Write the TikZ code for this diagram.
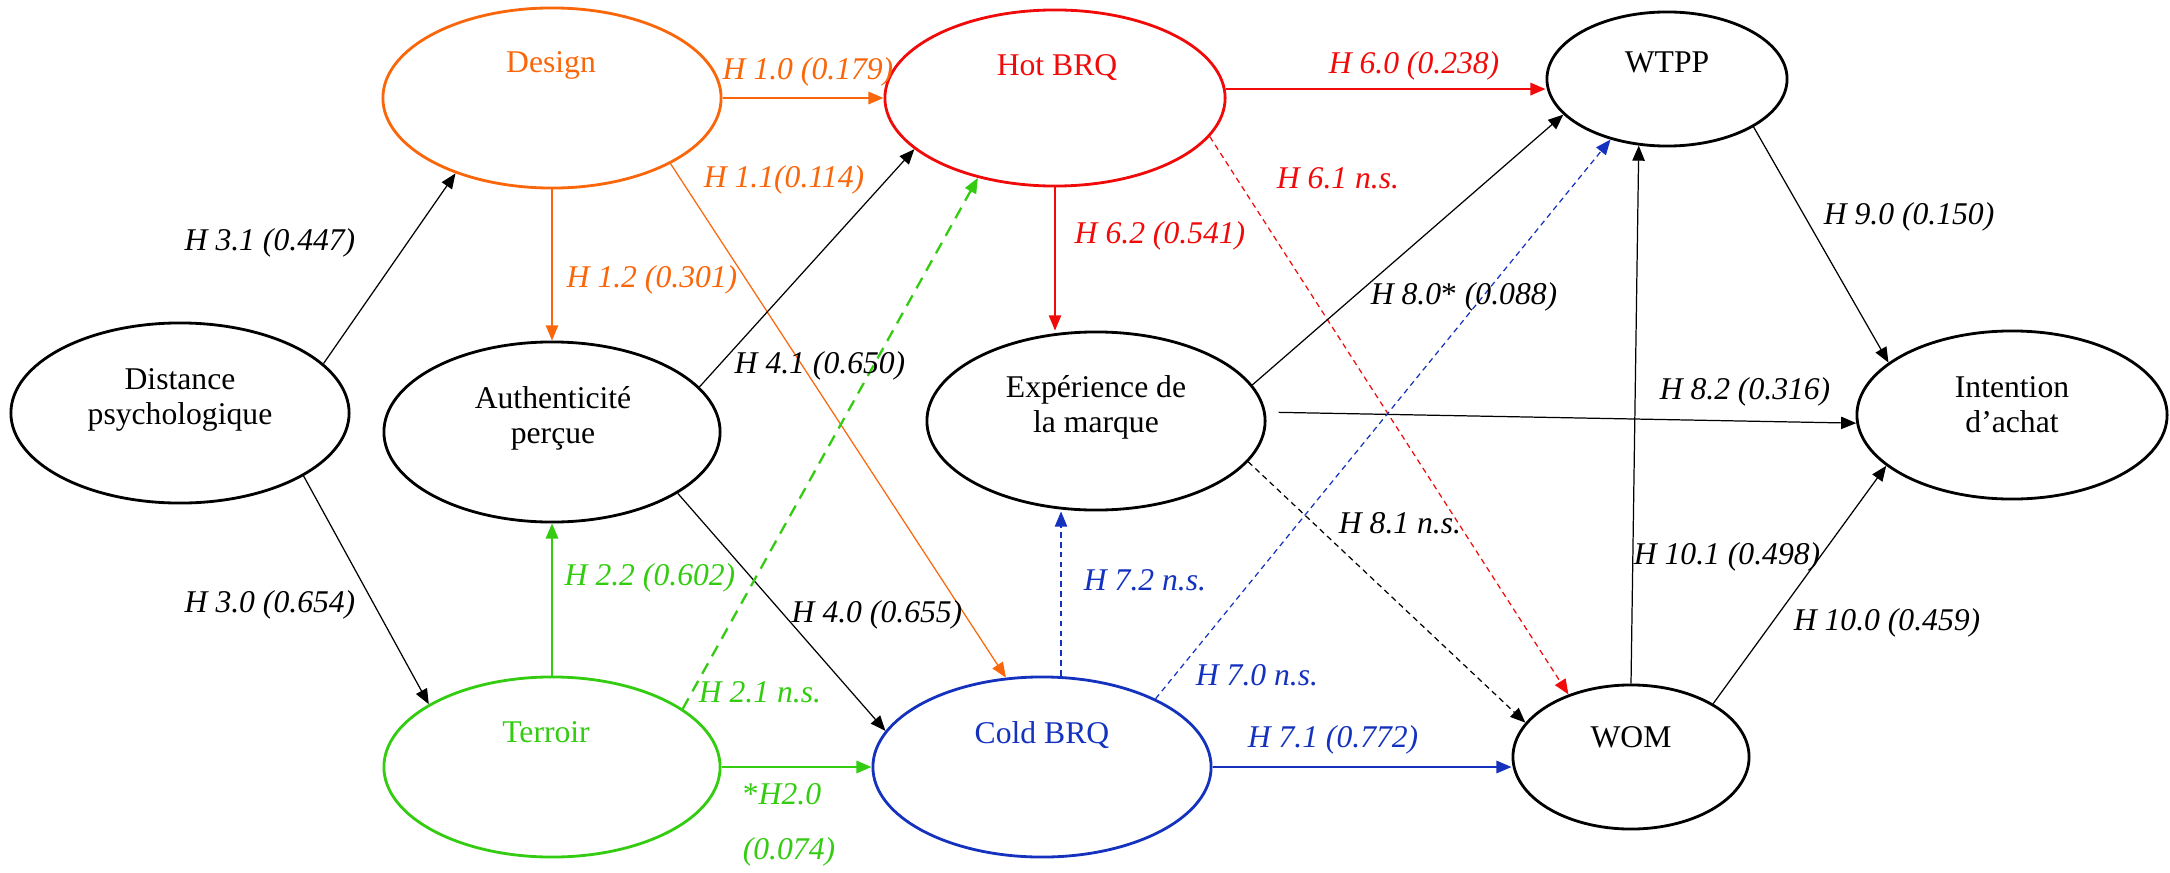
\documentclass[tikz,border=0pt]{standalone}
\usepackage{fontspec}
\setmainfont{Liberation Serif}
\usetikzlibrary{shapes.geometric, arrows.meta}
\definecolor{dorange}{RGB}{250,102,10}
\definecolor{dred}{RGB}{240,10,10}
\definecolor{dgreen}{RGB}{51,204,17}
\definecolor{dblue}{RGB}{20,50,190}
\begin{document}
\begin{tikzpicture}[
  x=0.01cm, y=-0.01cm,
  font=\fontsize{9}{10}\selectfont,
  construct/.style={draw, ellipse, line width=0.8pt, inner sep=0pt, minimum width=3.38cm, minimum height=1.80cm},
  hyp/.style={font=\fontsize{9}{10}\selectfont\itshape},
  link/.style={-{Triangle[length=4.3pt, width=3.5pt]}, line width=0.35pt},
  bold/.style={link, line width=0.65pt},
  ns/.style={dash pattern=on 1.6pt off 1.2pt}
]
  \useasboundingbox (0,0) rectangle (2170,873);

  \node[construct] (distance) at (180,413) {};
  \node[construct, draw=dorange] (design) at (552,98) {};
  \node[construct, minimum width=3.36cm] (auth) at (552,432) {};
  \node[construct, draw=dgreen, minimum width=3.36cm] (terroir) at (552,767) {};
  \node[construct, draw=dred, minimum width=3.40cm, minimum height=1.76cm] (hot) at (1055,98) {};
  \node[construct, minimum height=1.78cm] (exp) at (1096,421) {};
  \node[construct, draw=dblue] (cold) at (1042,767) {};
  \node[construct, minimum width=2.40cm, minimum height=1.34cm] (wtpp) at (1667,79) {};
  \node[construct, minimum width=2.36cm, minimum height=1.44cm] (wom) at (1631,757) {};
  \node[construct, minimum width=3.10cm, minimum height=1.68cm] (intent) at (2012,415) {};

  \node[align=center] (distance-t) at (180,400) {Distance\\psychologique};
  \node[text=dorange] (design-t) at (551,65) {Design};
  \node[align=center] (auth-t) at (553,418) {Authenticité\\perçue};
  \node[text=dgreen] (terroir-t) at (546,732) {Terroir};
  \node[text=dred] (hot-t) at (1057,68) {Hot BRQ};
  \node[align=center] (exp-t) at (1096,407) {Expérience de\\la marque};
  \node[text=dblue] (cold-t) at (1042,735) {Cold BRQ};
  \node (wtpp-t) at (1667,62) {WTPP};
  \node (wom-t) at (1631,737) {WOM};
  \node[align=center] (intent-t) at (2012,405) {Intention\\d’achat};

  \draw[bold, dorange] (design.east) -- (hot.west);
  \draw[link, dorange] (design.south) -- (auth.north);
  \draw[link, dorange] (design.-29) -- (cold.112);
  \draw[link] (distance.19) -- (design.218);
  \draw[link] (distance.-27) -- (terroir.153);
  \draw[link] (auth.17) -- (hot.200);
  \draw[link] (auth.-26) -- (cold.167);
  \draw[bold, dgreen] (terroir.north) -- (auth.south);
  \draw[bold, dgreen, dash pattern=on 3.4pt off 2.3pt] (terroir.24) -- (hot.-134);
  \draw[bold, dgreen] (terroir.east) -- (cold.west);
  \draw[bold, dred] (hot.3) -- (hot.3 -| wtpp.west);
  \draw[link, dred] (hot.south) -- (hot.south |- exp.north);
  \draw[link, ns, dred] (hot.-14) -- (wom.135);
  \draw[link] (exp.13) -- (wtpp.199);
  \draw[link, shorten <=0.13cm] (exp.3) -- (intent.183);
  \draw[link, ns] (exp.-15) -- (wom.162);
  \draw[link, ns, dblue] (cold.31) -- (wtpp.-133);
  \draw[link, ns, dblue] ([xshift=0.19cm]cold.north) -- ([xshift=0.19cm]cold.north |- exp.south);
  \draw[bold, dblue] (cold.east) -- (cold.east -| wom.west);
  \draw[link] (wom.north) -- (wtpp.-113);
  \draw[link] (wom.33) -- (intent.-158);
  \draw[link] (wtpp.-29) -- (intent.157);

  \node[hyp, text=dorange] (l10) at (808,72) {H 1.0 (0.179)};
  \node[hyp, text=dorange] (l11) at (784,180) {H 1.1(0.114)};
  \node[hyp, text=dorange] (l12) at (652,280) {H 1.2 (0.301)};
  \node[hyp] (l31) at (270,243) {H 3.1 (0.447)};
  \node[hyp] (l30) at (270,605) {H 3.0 (0.654)};
  \node[hyp] (l41) at (820,366) {H 4.1 (0.650)};
  \node[hyp] (l40) at (877,615) {H 4.0 (0.655)};
  \node[hyp, text=dgreen] (l22) at (650,578) {H 2.2 (0.602)};
  \node[hyp, text=dgreen] (l21) at (760,692) {H 2.1 n.s.};
  \node[hyp, text=dgreen, align=left] (l20) at (789,825) {\textup{*}H2.0\\[5.6pt](0.074)};
  \node[hyp, text=dred] (l60) at (1414,66) {H 6.0 (0.238)};
  \node[hyp, text=dred] (l62) at (1160,236) {H 6.2 (0.541)};
  \node[hyp, text=dred] (l61) at (1338,178) {H 6.1 n.s.};
  \node[hyp] (l80) at (1464,297) {H 8.0\textup{*} (0.088)};
  \node[hyp] (l82) at (1745,392) {H 8.2 (0.316)};
  \node[hyp] (l81) at (1400,523) {H 8.1 n.s.};
  \node[hyp, text=dblue] (l70) at (1257,675) {H 7.0 n.s.};
  \node[hyp, text=dblue] (l72) at (1145,580) {H 7.2 n.s.};
  \node[hyp, text=dblue] (l71) at (1333,740) {H 7.1 (0.772)};
  \node[hyp] (l101) at (1727,557) {H 10.1 (0.498)};
  \node[hyp] (l100) at (1887,623) {H 10.0 (0.459)};
  \node[hyp] (l90) at (1909,217) {H 9.0 (0.150)};
\end{tikzpicture}
\end{document}
